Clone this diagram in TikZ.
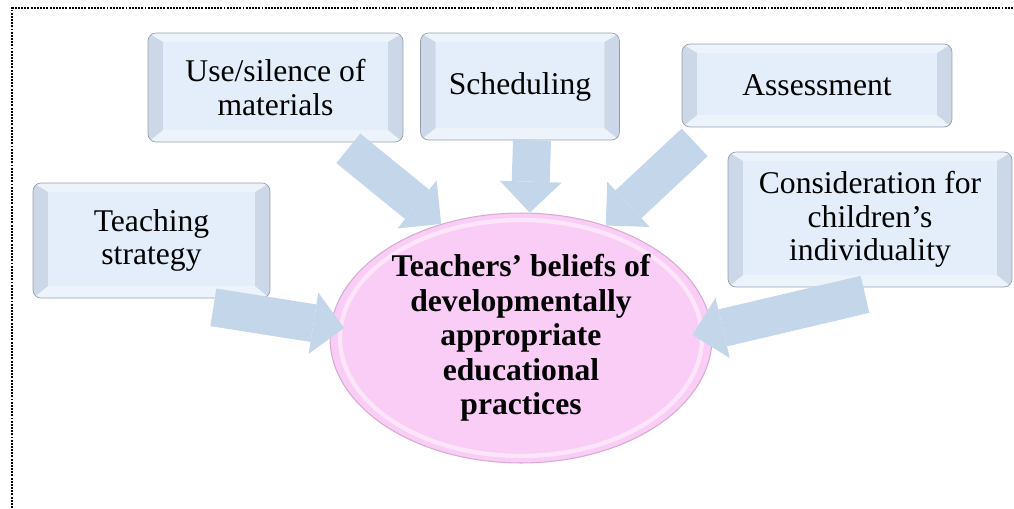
\documentclass[tikz,border=0pt]{standalone}
\usepackage{fontspec}
\setmainfont{LiberationSerif}[Extension=.ttf, UprightFont=*-Regular, BoldFont=*-Bold]
\usetikzlibrary{calc, arrows.meta, shapes.geometric}

\definecolor{boxface}{RGB}{228,238,250}
\definecolor{boxrim}{RGB}{236,243,251}
\definecolor{boxside}{RGB}{204,216,231}
\definecolor{boxline}{RGB}{150,160,172}
\definecolor{flowblue}{RGB}{196,214,234}
\definecolor{beliefpink}{RGB}{249,205,246}
\definecolor{beliefedge}{RGB}{212,172,208}
\definecolor{beliefring}{RGB}{252,228,249}

\begin{document}
\begin{tikzpicture}[x=0.02cm, y=-0.02cm,
    factor/.style={draw=boxline, fill=boxrim, rounded corners=0.16cm,
        inner sep=0pt, align=center, font=\fontsize{18}{19}\selectfont,
        path picture={
            \path (path picture bounding box.south west) coordinate (sw)
                (path picture bounding box.north east) coordinate (ne);
            \fill [boxside, sharp corners] (sw) -- ($(sw)+(0.3cm,0.24cm)$)
                -- ($(sw|-ne)+(0.3cm,-0.18cm)$) -- (sw|-ne) -- cycle;
            \fill [boxside, sharp corners] (ne) -- ($(ne)+(-0.3cm,-0.18cm)$)
                -- ($(ne|-sw)+(-0.3cm,0.24cm)$) -- (ne|-sw) -- cycle;
            \fill [boxface, sharp corners] ($(sw)+(0.3cm,0.24cm)$) rectangle ($(ne)+(-0.3cm,-0.18cm)$);}},
    belief/.style={ellipse, draw=beliefedge, fill=beliefpink, line width=0.6pt,
        inner sep=0pt, minimum width=7.64cm, minimum height=5cm, align=center,
        font=\fontsize{18}{19.6}\selectfont\bfseries,
        path picture={\draw [beliefring, line width=2.5pt] (path picture bounding box.center)
            ellipse [x radius=3.62cm, y radius=2.36cm];}},
    flow/.style={draw=flowblue, line width=0.76cm,
        arrows={-{Triangle[length=0.62cm, width=1.24cm, line width=0pt]}}},
    frame/.style={line width=1.4pt, dash pattern=on 1.1pt off 0.7pt}
    ]
        \useasboundingbox (0, 0) rectangle (1014, 508);
        \draw [frame] (12, 508) -- (12, 8) -- (1014, 8);

        \node [belief] (belief) at (521, 338)
            {Teachers’ beliefs of\\developmentally\\appropriate\\educational\\practices};

        \node [factor, minimum width=5.1cm, minimum height=2.18cm] (use) at (275.5, 87.5)
            {Use/silence of\\materials};
        \node [factor, minimum width=3.98cm, minimum height=2.14cm] (sched) at (520, 86.5)
            {Scheduling};
        \node [factor, minimum width=5.4cm, minimum height=1.66cm] (assess) at (817, 85.5)
            {Assessment};
        \node [factor, minimum width=4.74cm, minimum height=2.3cm] (teach) at (151.5, 240.5)
            {Teaching\\strategy};
        \node [factor, minimum width=5.68cm, minimum height=2.7cm] (consid) at (870, 219.5)
            {Consideration for\\children’s\\individuality};

        \path [flow] ($(use.south east)+(-55, 6)$) -- (belief.125);
        \path [flow] ($(sched.south)+(12, 0)$) -- (belief.86);
        \path [flow] ($(assess.south west)+(13, 15)$) -- (belief.53);
        \path [flow] ($(teach.south east)+(-57, 9)$) -- ($(belief.177)+(14, 0)$);
        \path [flow] ($(consid.south)+(-5, 7)$) -- ($(belief.east)+(-20, -3)$);
    \end{tikzpicture}
\end{document}
